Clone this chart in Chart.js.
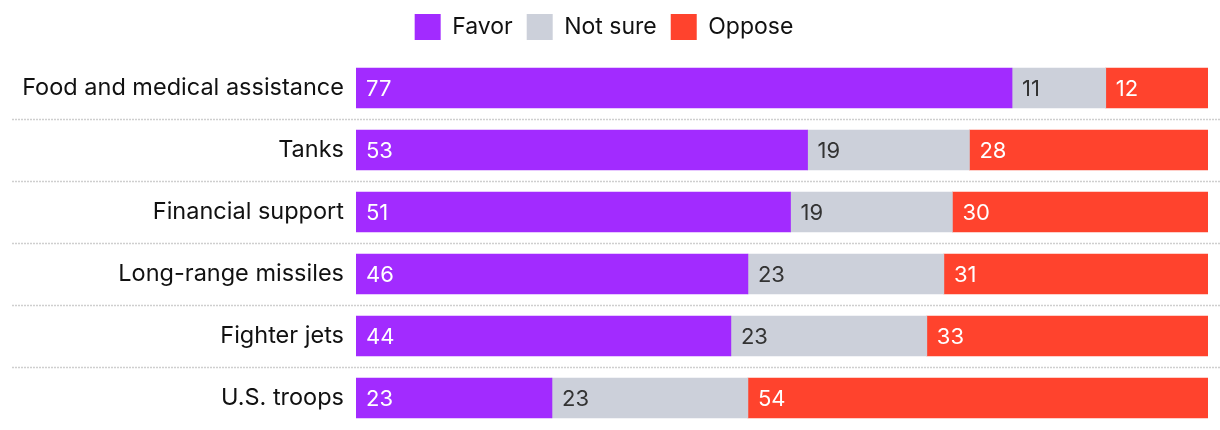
<!DOCTYPE html>
<html lang="en">
<head>
    <meta charset="UTF-8">
    <title>Support for aid</title>
    <style>
        html, body { margin: 0; padding: 0; background: #fff; }
    </style>
</head>
<body>
    <canvas id="myChart" width="1220" height="430"></canvas>

<script src="https://cdn.jsdelivr.net/npm/chart.js"></script>
<script>
    const categories = ['Food and medical assistance', 'Tanks', 'Financial support', 'Long-range missiles', 'Fighter jets', 'U.S. troops'];
    const favor = [77, 53, 51, 46, 44, 23];
    const notSure = [11, 19, 19, 23, 23, 23];
    const oppose = [12, 28, 30, 31, 33, 54];

    const FONT = 'Inter, "DejaVu Sans", sans-serif';

    // numbers inside the bars
    const barLabels = {
        id: 'barLabels',
        afterDatasetsDraw(chart) {
            const ctx = chart.ctx;
            ctx.save();
            ctx.font = '22px ' + FONT;
            ctx.textBaseline = 'middle';
            ctx.textAlign = 'left';
            chart.data.datasets.forEach((ds, i) => {
                chart.getDatasetMeta(i).data.forEach((bar, j) => {
                    ctx.fillStyle = ds.labelColor;
                    ctx.fillText(ds.data[j], bar.base + 10, bar.y + 1);
                });
            });
            ctx.restore();
        }
    };

    // dotted rules between rows, running under the labels too
    const rowRules = {
        id: 'rowRules',
        beforeDatasetsDraw(chart) {
            const ctx = chart.ctx, y = chart.scales.y;
            ctx.save();
            ctx.strokeStyle = '#cfcfcf';
            ctx.lineWidth = 1.5;
            ctx.setLineDash([2, 1]);
            for (let i = 0; i < categories.length - 1; i++) {
                const yy = Math.round((y.getPixelForValue(i) + y.getPixelForValue(i + 1)) / 2) + 0.5;
                ctx.beginPath();
                ctx.moveTo(12, yy);
                ctx.lineTo(chart.width, yy);
                ctx.stroke();
            }
            ctx.restore();
        }
    };

    // a little more room under the legend
    const legendGap = {
        id: 'legendGap',
        beforeInit(chart) {
            const fit = chart.legend.fit;
            chart.legend.fit = function () {
                fit.call(this);
                this.height += 7;
            };
        }
    };

    new Chart(document.getElementById('myChart'), {
        type: 'bar',
        data: {
            labels: categories,
            datasets: [
                { label: 'Favor', data: favor, backgroundColor: '#a22bff', labelColor: '#ffffff' },
                { label: 'Not sure', data: notSure, backgroundColor: '#ccd0da', labelColor: '#333333' },
                { label: 'Oppose', data: oppose, backgroundColor: '#ff432d', labelColor: '#ffffff' }
            ]
        },
        options: {
            indexAxis: 'y',
            responsive: false,
            animation: false,
            datasets: { bar: { barThickness: 40, borderWidth: 0 } },
            layout: { padding: { left: 0, right: 12, top: 0, bottom: 1 } },
            scales: {
                x: {
                    stacked: true, min: 0, max: 100, display: false,
                    afterFit(scale) { scale.height = 0; scale.paddingTop = scale.paddingBottom = scale.paddingLeft = scale.paddingRight = 0; }
                },
                y: {
                    stacked: true,
                    grid: { display: false, drawTicks: false },
                    border: { display: false },
                    ticks: { color: '#111', font: { family: FONT, size: 23.5 }, padding: 12 },
                    afterFit(scale) { scale.width = 356; scale.paddingTop = scale.paddingBottom = 0; }
                }
            },
            plugins: {
                legend: {
                    position: 'top',
                    labels: { color: '#111', font: { family: FONT, size: 23 }, boxWidth: 26, boxHeight: 26, padding: 14 }
                },
                tooltip: { enabled: false }
            }
        },
        plugins: [barLabels, rowRules, legendGap]
    });
</script>
</body>
</html>
